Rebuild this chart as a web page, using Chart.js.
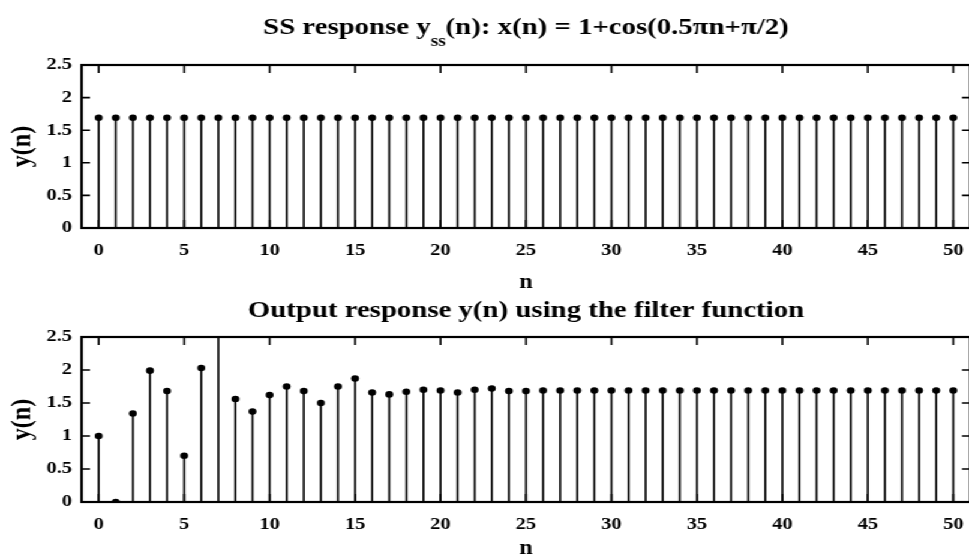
<!DOCTYPE html>
<html>
<head>
<meta charset="utf-8">
<script src="https://cdn.jsdelivr.net/npm/chart.js@4.4.1/dist/chart.umd.min.js"></script>
<style>
  html, body { margin: 0; padding: 0; background: #fff; overflow: hidden; }
  #page { position: relative; width: 969px; height: 558px; overflow: hidden; }
  /* the reference figure is stretched sideways, so the whole drawing is too */
  #stretch { position: absolute; left: 0; top: 0; width: 815px; height: 558px;
             transform: scaleX(1.2); transform-origin: 0 0; }
  canvas { position: absolute; left: 0; }
</style>
</head>
<body>
<div id="page">
  <div id="stretch">
    <canvas id="ssChart" width="815" height="300" style="top:0"></canvas>
    <canvas id="filterChart" width="815" height="280" style="top:290px"></canvas>
  </div>
</div>
<script>
// sample index n
const nValues = [0, 1, 2, 3, 4, 5, 6, 7, 8, 9, 10, 11, 12, 13, 14, 15, 16, 17, 18, 19, 20,
  21, 22, 23, 24, 25, 26, 27, 28, 29, 30, 31, 32, 33, 34, 35, 36, 37, 38, 39, 40,
  41, 42, 43, 44, 45, 46, 47, 48, 49, 50];

// steady state response y_ss(n)
const yssValues = [1.69, 1.69, 1.69, 1.69, 1.69, 1.69, 1.69, 1.69, 1.69, 1.69, 1.69,
  1.69, 1.69, 1.69, 1.69, 1.69, 1.69, 1.69, 1.69, 1.69, 1.69,
  1.69, 1.69, 1.69, 1.69, 1.69, 1.69, 1.69, 1.69, 1.69, 1.69,
  1.69, 1.69, 1.69, 1.69, 1.69, 1.69, 1.69, 1.69, 1.69, 1.69,
  1.69, 1.69, 1.69, 1.69, 1.69, 1.69, 1.69, 1.69, 1.69, 1.69];

// output of the filter function (n = 7 runs off the top of the axes)
const yFilterValues = [1.00, 0.00, 1.34, 1.99, 1.68, 0.70, 2.03, 3.00, 1.56, 1.37, 1.62,
  1.75, 1.68, 1.50, 1.75, 1.87, 1.66, 1.63, 1.67, 1.70, 1.69,
  1.66, 1.70, 1.72, 1.68, 1.68, 1.69, 1.69, 1.69, 1.69, 1.69,
  1.69, 1.69, 1.69, 1.69, 1.69, 1.69, 1.69, 1.69, 1.69, 1.69,
  1.69, 1.69, 1.69, 1.69, 1.69, 1.69, 1.69, 1.69, 1.69, 1.69];

const xTickValues = [0, 5, 10, 15, 20, 25, 30, 35, 40, 45, 50];
const yTickValues = [0, 0.5, 1, 1.5, 2, 2.5];
const yTickLabels = ['0', '0.5', '1', '1.5', '2', '2.5'];

const FONT = '"Liberation Serif"';

// box round the axes with inward ticks on all four sides, matlab style
const boxAxes = {
  id: 'boxAxes',
  afterDatasetsDraw(chart) {
    const { ctx, chartArea: a, scales: { x, y } } = chart;
    ctx.save();
    ctx.strokeStyle = '#000';
    ctx.lineWidth = 1.6;
    ctx.beginPath();
    xTickValues.forEach(v => {
      const px = x.getPixelForValue(v);
      ctx.moveTo(px, a.bottom); ctx.lineTo(px, a.bottom - 8);
      ctx.moveTo(px, a.top); ctx.lineTo(px, a.top + 8);
    });
    yTickValues.forEach(v => {
      const py = y.getPixelForValue(v);
      ctx.moveTo(a.left, py); ctx.lineTo(a.left + 7, py);
      ctx.moveTo(a.right, py); ctx.lineTo(a.right - 7, py);
    });
    ctx.stroke();
    ctx.lineWidth = 2.2;
    ctx.strokeRect(a.left, a.top, a.right - a.left, a.bottom - a.top);
    ctx.restore();
  }
};

// title drawn by hand so that the subscript can be shown
const stemTitle = {
  id: 'stemTitle',
  afterDraw(chart, args, opts) {
    if (!opts.parts) return;
    const { ctx, chartArea: a } = chart;
    const mainFont = 'bold 24px ' + FONT;
    const subFont = 'bold 16px ' + FONT;
    ctx.save();
    ctx.fillStyle = '#000';
    ctx.textBaseline = 'middle';
    let total = 0;
    opts.parts.forEach(p => {
      ctx.font = p.sub ? subFont : mainFont;
      total += ctx.measureText(p.text).width;
    });
    let cx = (a.left + a.right) / 2 - total / 2;
    opts.parts.forEach(p => {
      ctx.font = p.sub ? subFont : mainFont;
      ctx.fillText(p.text, cx, opts.y + (p.sub ? 14 : 0));
      cx += ctx.measureText(p.text).width;
    });
    ctx.restore();
  }
};

function stemChart(canvasId, values, titleParts, titleY, padTop, xAxisHeight, nPad) {
  const points = nValues.map((n, i) => ({ x: n, y: values[i] }));
  return new Chart(document.getElementById(canvasId), {
    data: {
      datasets: [
        {
          type: 'bar',
          data: points,
          backgroundColor: '#000',
          borderWidth: 0,
          barThickness: 1,
          order: 2
        },
        {
          type: 'scatter',
          data: points,
          pointRadius: 3.3,
          pointBackgroundColor: '#000',
          pointBorderWidth: 0,
          showLine: false,
          order: 1
        }
      ]
    },
    options: {
      responsive: false,
      devicePixelRatio: 1,
      animation: false,
      layout: { padding: { top: padTop, left: 0, right: 5, bottom: 0 } },
      plugins: {
        legend: { display: false },
        tooltip: { enabled: false },
        title: { display: false },
        stemTitle: { parts: titleParts, y: titleY }
      },
      scales: {
        x: {
          type: 'linear',
          offset: false,
          min: -1,
          max: 51,
          afterBuildTicks: s => { s.ticks = xTickValues.map(v => ({ value: v })); },
          afterFit: s => { s.height = xAxisHeight; },
          grid: { display: false, drawTicks: false, offset: false },
          border: { display: false },
          ticks: {
            color: '#000',
            padding: 12,
            maxRotation: 0,
            font: { family: FONT, size: 17, weight: 'bold' }
          },
          title: {
            display: true,
            text: 'n',
            color: '#000',
            padding: { top: 0, bottom: nPad },
            font: { family: FONT, size: 20, weight: 'bold' }
          }
        },
        y: {
          type: 'linear',
          min: 0,
          max: 2.5,
          afterBuildTicks: s => { s.ticks = yTickValues.map(v => ({ value: v })); },
          afterFit: s => { s.width = 68; },
          grid: { display: false, drawTicks: false },
          border: { display: false },
          ticks: {
            color: '#000',
            padding: 8,
            font: { family: FONT, size: 17, weight: 'bold' },
            callback: (v, i) => yTickLabels[i]
          },
          title: {
            display: true,
            text: 'y(n)',
            color: '#000',
            padding: { top: 4, bottom: 0 },
            font: { family: FONT, size: 24, weight: 'bold' }
          }
        }
      }
    },
    plugins: [boxAxes, stemTitle]
  });
}

function drawAll() {
  stemChart('ssChart', yssValues, [
    { text: 'SS response y' },
    { text: 'ss', sub: true },
    { text: '(n): x(n) = 1+cos(0.5\u03c0n+\u03c0/2)' }
  ], 28, 65, 72, 5);

  stemChart('filterChart', yFilterValues, [
    { text: 'Output response y(n) using the filter function' }
  ], 21, 47, 68, 9);
}

Promise.all([
  document.fonts.load('bold 24px "Liberation Serif"'),
  document.fonts.load('bold 17px "Liberation Serif"')
]).then(drawAll, drawAll);
</script>
</body>
</html>
